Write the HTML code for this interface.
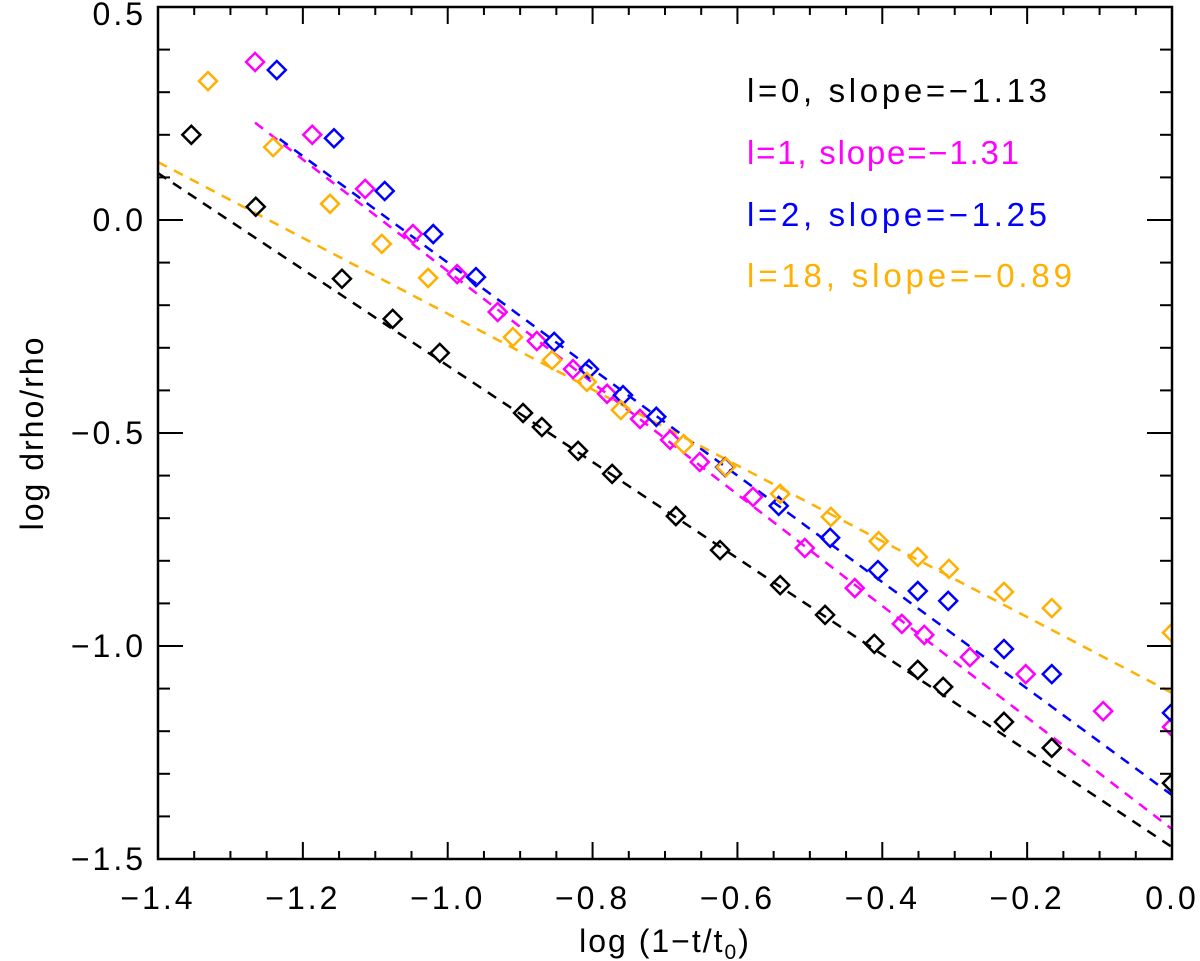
<!DOCTYPE html>
<html><head><meta charset="utf-8"><style>
html,body{margin:0;padding:0;background:#fff;}
svg{display:block;font-family:"Liberation Sans",sans-serif;}
</style></head><body>
<svg id="chart" width="1200" height="961" viewBox="0 0 1200 961" xmlns="http://www.w3.org/2000/svg">
<defs><clipPath id="plotclip"><rect x="158" y="7" width="1014" height="852"/></clipPath></defs>
<g id="marks" clip-path="url(#plotclip)"></g>
<g id="axes"></g>
<text x="665" y="952" font-size="32" text-anchor="middle" letter-spacing="2">log (1−t/t<tspan font-size="21" dy="7">0</tspan><tspan dy="-7">)</tspan></text>
<text x="0" y="0" font-size="32" text-anchor="middle" letter-spacing="2" transform="translate(43,433) rotate(-90)">log drho/rho</text>
<text x="747" y="102" font-size="33" fill="#000" textLength="300">l=0, slope=−1.13</text>
<text x="747" y="164" font-size="33" fill="#ff00ff" textLength="272">l=1, slope=−1.31</text>
<text x="747" y="226" font-size="33" fill="#0000ff" textLength="300">l=2, slope=−1.25</text>
<text x="747" y="287" font-size="33" fill="#ffb000" textLength="325">l=18, slope=−0.89</text>
</svg>
<script>
const xTicks=[-1.4,-1.2,-1.0,-0.8,-0.6,-0.4,-0.2,0.0];
const xTickLabels=["−1.4","−1.2","−1.0","−0.8","−0.6","−0.4","−0.2","0.0"];
const yTicks=[0.5,0.0,-0.5,-1.0,-1.5];
const yTickLabels=["0.5","0.0","−0.5","−1.0","−1.5"];
const l0X=[-1.354,-1.265,-1.146,-1.076,-1.011,-0.896,-0.870,-0.820,-0.773,-0.685,-0.624,-0.541,-0.479,-0.411,-0.351,-0.316,-0.232,-0.166,0.0];
const l0Y=[0.200,0.031,-0.138,-0.232,-0.312,-0.453,-0.486,-0.542,-0.596,-0.695,-0.775,-0.857,-0.927,-0.995,-1.056,-1.096,-1.178,-1.239,-1.322];
const l1X=[-1.266,-1.187,-1.114,-1.048,-0.987,-0.931,-0.877,-0.827,-0.780,-0.7345,-0.693,-0.652,-0.5785,-0.507,-0.438,-0.373,-0.342,-0.279,-0.202,-0.095,0.0];
const l1Y=[0.371,0.200,0.073,-0.033,-0.127,-0.216,-0.284,-0.350,-0.408,-0.467,-0.516,-0.568,-0.650,-0.770,-0.864,-0.948,-0.974,-1.026,-1.066,-1.153,-1.190];
const l2X=[-1.236,-1.157,-1.087,-1.020,-0.961,-0.853,-0.805,-0.758,-0.712,-0.617,-0.543,-0.472,-0.406,-0.351,-0.309,-0.232,-0.166,0.0];
const l2Y=[0.352,0.192,0.068,-0.033,-0.134,-0.286,-0.350,-0.411,-0.462,-0.580,-0.671,-0.746,-0.822,-0.871,-0.894,-1.007,-1.066,-1.157];
const l18X=[-1.331,-1.241,-1.1625,-1.091,-1.027,-0.910,-0.856,-0.808,-0.761,-0.674,-0.616,-0.541,-0.471,-0.405,-0.351,-0.308,-0.232,-0.166,0.0];
const l18Y=[0.326,0.171,0.038,-0.056,-0.136,-0.275,-0.329,-0.380,-0.446,-0.526,-0.580,-0.643,-0.697,-0.754,-0.791,-0.819,-0.873,-0.911,-0.969];
const slopes=[-1.13,-1.31,-1.25,-0.89];
const intercepts=[-1.472,-1.43,-1.35,-1.11];
const fitStart=[-1.4,-1.266,-1.232,-1.4];
const colors=["#000000","#ff00ff","#0000ff","#ffb000"];
const names=["l0","l1","l2","l18"];

const X0=158,X1=1172,Y0=7,Y1=859,xmin=-1.4,xmax=0.0,ymin=-1.5,ymax=0.5;
function sx(v){return X0+(v-xmin)/(xmax-xmin)*(X1-X0);}
function sy(v){return Y1-(v-ymin)/(ymax-ymin)*(Y1-Y0);}
const NS="http://www.w3.org/2000/svg";
function mk(tag,attrs,parent){const e=document.createElementNS(NS,tag);for(const k in attrs)e.setAttribute(k,attrs[k]);parent.appendChild(e);return e;}
const marks=document.getElementById('marks');
const axes=document.getElementById('axes');

for(let i=0;i<4;i++){
  const xa=fitStart[i],xb=0.0;
  const ln=mk('line',{x1:sx(xa),y1:sy(intercepts[i]+slopes[i]*xa),x2:sx(xb),y2:sy(intercepts[i]+slopes[i]*xb),stroke:colors[i],'stroke-width':2.5,'stroke-dasharray':'10 8'},marks);
  
  
}
const seriesX=[l0X,l1X,l2X,l18X], seriesY=[l0Y,l1Y,l2Y,l18Y];
for(let i=0;i<4;i++){
  for(let j=0;j<seriesX[i].length;j++){
    const cx=sx(seriesX[i][j]), cy=sy(seriesY[i][j]), r=9;
    const p=mk('polygon',{points:`${cx},${cy-r} ${cx+r},${cy} ${cx},${cy+r} ${cx-r},${cy}`,fill:'none',stroke:colors[i],'stroke-width':2.5},marks);
    
    
  }
}
const fr=mk('rect',{x:X0,y:Y0,width:X1-X0,height:Y1-Y0,fill:'none',stroke:'#000','stroke-width':2.5},axes);


for(let k=0;k<=28;k++){
  const v=xmin+k*0.05, x=sx(v), major=(k%4===0), L=major?17:8;
  mk('line',{x1:x,y1:Y1,x2:x,y2:Y1-L,stroke:'#000','stroke-width':2},axes);
  mk('line',{x1:x,y1:Y0,x2:x,y2:Y0+L,stroke:'#000','stroke-width':2},axes);
}
for(let k=0;k<=20;k++){
  const v=ymin+k*0.1, y=sy(v), major=(k%5===0), L=major?25:12;
  mk('line',{x1:X0,y1:y,x2:X0+L,y2:y,stroke:'#000','stroke-width':2},axes);
  mk('line',{x1:X1,y1:y,x2:X1-L,y2:y,stroke:'#000','stroke-width':2},axes);
}
xTicks.forEach((v,i)=>{
  const t=mk('text',{x:sx(v),y:909,'font-size':32,'text-anchor':'middle','letter-spacing':3},axes);
  t.textContent=xTickLabels[i];
  
  
});
yTicks.forEach((v,i)=>{
  const t=mk('text',{x:146,y:Math.min(Math.max(sy(v)+11,25),870),'font-size':32,'text-anchor':'end','letter-spacing':3},axes);
  t.textContent=yTickLabels[i];
  
  
});
</script>
</body></html>
